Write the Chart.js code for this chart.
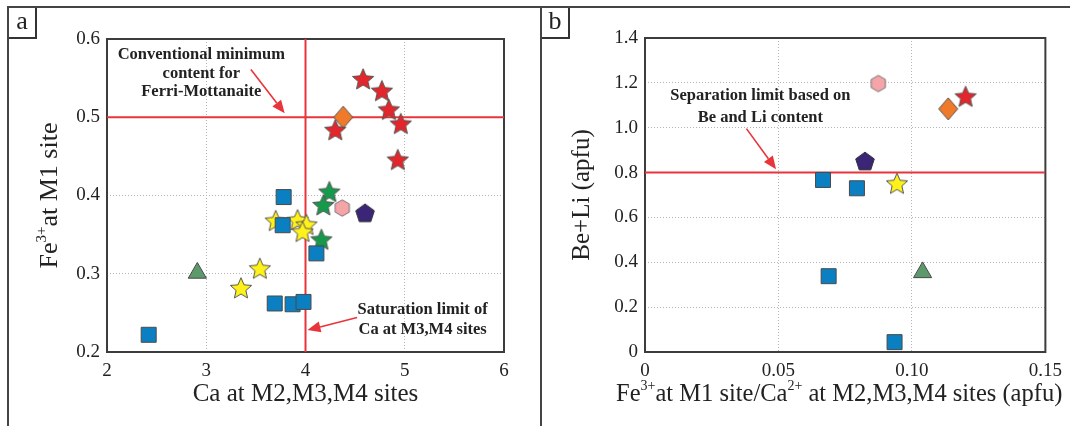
<!DOCTYPE html>
<html>
<head>
<meta charset="utf-8">
<script src="https://cdn.jsdelivr.net/npm/chart.js@4.4.0/dist/chart.umd.min.js"></script>
<style>
html, body { margin: 0; padding: 0; background: #fff; }
#wrap { position: relative; width: 1070px; height: 426px; overflow: hidden; background: #fff; }
#wrap canvas { position: absolute; top: 0; }
.line { position: absolute; background: #444; }
.tag { position: absolute; top: 8px; height: 29px; border-right: 2px solid #333; border-bottom: 2px solid #333;
       font: 26px "Liberation Serif", serif; color: #222; text-align: center; line-height: 26px; }
</style>
</head>
<body>
<div id="wrap">
  <canvas id="chartA" width="540" height="426" style="left:0"></canvas>
  <canvas id="chartB" width="529" height="426" style="left:541px"></canvas>
  <div class="line" style="left:7px;top:6px;width:1063px;height:2px"></div>
  <div class="line" style="left:7px;top:6px;width:2px;height:420px"></div>
  <div class="line" style="left:540px;top:6px;width:2px;height:420px"></div>
  <div class="tag" style="left:9px;width:26px">a</div>
  <div class="tag" style="left:542px;width:26px">b</div>
</div>
<script>
// ---- panel a: Fe3+ at M1 vs Ca at M2,M3,M4 ----
const aXTicks = [2, 3, 4, 5, 6];
const aXLabels = ['2', '3', '4', '5', '6'];
const aYTicks = [0.2, 0.3, 0.4, 0.5, 0.6];
const aYLabels = ['0.2', '0.3', '0.4', '0.5', '0.6'];

const aBlueCa = [3.78, 3.77, 4.11, 3.69, 3.87, 3.98, 2.42];
const aBlueFe = [0.398, 0.362, 0.326, 0.262, 0.261, 0.264, 0.222];
const aYellowCa = [3.70, 3.92, 4.01, 3.97, 3.54, 3.35];
const aYellowFe = [0.368, 0.369, 0.363, 0.354, 0.307, 0.282];
const aRedCa = [4.58, 4.77, 4.84, 4.96, 4.30, 4.93];
const aRedFe = [0.549, 0.534, 0.510, 0.492, 0.484, 0.446];
const aGreenCa = [4.24, 4.18, 4.16];
const aGreenFe = [0.405, 0.388, 0.344];
const aOrangeCa = [4.38];
const aOrangeFe = [0.500];
const aPinkCa = [4.37];
const aPinkFe = [0.384];
const aPurpleCa = [4.60];
const aPurpleFe = [0.378];
const aTriCa = [2.91];
const aTriFe = [0.301];

const aCaLimit = 4;     // saturation limit of Ca
const aFeLimit = 0.5;   // conventional minimum Fe3+

// ---- panel b: Be+Li vs Fe3+/Ca2+ ----
const bXTicks = [0, 0.05, 0.10, 0.15];
const bXLabels = ['0', '0.05', '0.10', '0.15'];
const bYTicks = [0, 0.2, 0.4, 0.6, 0.8, 1.0, 1.2, 1.4];
const bYLabels = ['0', '0.2', '0.4', '0.6', '0.8', '1.0', '1.2', '1.4'];

const bBlueRatio = [0.0667, 0.0794, 0.0688, 0.0935];
const bBlueBeLi = [0.767, 0.730, 0.338, 0.044];
const bYellowRatio = [0.0944];
const bYellowBeLi = [0.752];
const bRedRatio = [0.1201];
const bRedBeLi = [1.140];
const bOrangeRatio = [0.1136];
const bOrangeBeLi = [1.084];
const bPinkRatio = [0.0874];
const bPinkBeLi = [1.197];
const bPurpleRatio = [0.0824];
const bPurpleBeLi = [0.852];
const bTriRatio = [0.104];
const bTriBeLi = [0.355];

const bBeLiLimit = 0.8;

// colours
const C = {
  blue: '#0a80c2', yellow: '#fff21a', red: '#e3262b', green: '#15994a',
  tri: '#5c9a6c', orange: '#ef7b2a', pink: '#f5a4a7', purple: '#3a2577',
  edge: '#4a4a4a', limit: '#e8343a'
};
const SERIF = '"Liberation Serif", "Times New Roman", serif';

// marker images
function shape(kind, fill, stroke) {
  const c = document.createElement('canvas');
  c.width = 28; c.height = 28;
  const g = c.getContext('2d');
  const cx = 14, cy = 14;
  g.beginPath();
  if (kind === 'star') {
    const R = 11.2, r = 5.1;
    for (let i = 0; i < 10; i++) {
      const rad = i % 2 ? r : R;
      const ang = -Math.PI / 2 + i * Math.PI / 5;
      g.lineTo(cx + rad * Math.cos(ang), cy + 1 + rad * Math.sin(ang));
    }
  } else if (kind === 'pentagon') {
    for (let i = 0; i < 5; i++) {
      const ang = -Math.PI / 2 + i * 2 * Math.PI / 5;
      g.lineTo(cx + 9.8 * Math.cos(ang), cy + 1 + 9.8 * Math.sin(ang));
    }
  } else if (kind === 'hexagon') {
    for (let i = 0; i < 6; i++) {
      const ang = -Math.PI / 2 + i * Math.PI / 3;
      g.lineTo(cx + 8.2 * Math.cos(ang), cy + 8.2 * Math.sin(ang));
    }
  } else if (kind === 'diamond') {
    g.moveTo(cx, cy - 11); g.lineTo(cx + 9.5, cy); g.lineTo(cx, cy + 11); g.lineTo(cx - 9.5, cy);
  }
  g.closePath();
  g.fillStyle = fill; g.fill();
  g.lineWidth = 1; g.strokeStyle = stroke; g.stroke();
  return c;
}

function pts(xs, ys) { return xs.map((x, i) => ({ x: x, y: ys[i] })); }

function markerSet(xs, ys, style, fill, radius) {
  return { type: 'scatter', data: pts(xs, ys), order: 0, pointStyle: style,
    backgroundColor: fill, borderColor: C.edge, borderWidth: 1, pointRadius: radius || 10.6 };
}

function limitLine(xs, ys) {
  return { type: 'line', data: pts(xs, ys), order: 10, borderColor: C.limit, borderWidth: 2,
    pointRadius: 0, fill: false, tension: 0 };
}

function fixedTicks(values, labels) {
  return {
    afterBuildTicks: s => { s.ticks = values.map(v => ({ value: v })); },
    callback: (v, i) => labels[i]
  };
}

function axes(xr, yr, xT, xL, yT, yL, yWidth) {
  const grid = { color: '#b4b4b4', lineWidth: 1, drawTicks: false };
  const fx = fixedTicks(xT, xL), fy = fixedTicks(yT, yL);
  return {
    x: { type: 'linear', min: xr[0], max: xr[1], border: { display: false, dash: [1, 2] },
      grid: grid, afterBuildTicks: fx.afterBuildTicks,
      afterFit: s => { s.height = 74; },
      ticks: { callback: fx.callback, padding: 8, color: '#222', font: { family: SERIF, size: 19 }, maxRotation: 0 } },
    y: { type: 'linear', min: yr[0], max: yr[1], border: { display: false, dash: [1, 2] },
      grid: grid, afterBuildTicks: fy.afterBuildTicks,
      afterFit: s => { s.width = yWidth; },
      ticks: { callback: fy.callback, padding: 7, color: '#222', font: { family: SERIF, size: 19 } } }
  };
}

// text with superscript parts: [[text, isSup], ...]
function richText(ctx, parts, x, y, rot, size) {
  const big = size + 'px ' + SERIF, small = Math.round(size * 0.56) + 'px ' + SERIF;
  let w = 0;
  parts.forEach(p => { ctx.font = p[1] ? small : big; w += ctx.measureText(p[0]).width; });
  ctx.save();
  ctx.translate(x, y);
  ctx.rotate(rot || 0);
  ctx.fillStyle = '#222';
  ctx.textBaseline = 'alphabetic';
  let cx = -w / 2;
  parts.forEach(p => {
    ctx.font = p[1] ? small : big;
    ctx.fillText(p[0], cx, p[1] ? -2 : 9);
    cx += ctx.measureText(p[0]).width;
  });
  ctx.restore();
}

function arrow(ctx, x0, y0, x1, y1) {
  const a = Math.atan2(y1 - y0, x1 - x0), L = 13, H = 5.5;
  ctx.save();
  ctx.strokeStyle = C.limit; ctx.fillStyle = C.limit; ctx.lineWidth = 1.6;
  ctx.beginPath();
  ctx.moveTo(x0, y0);
  ctx.lineTo(x1 - L * Math.cos(a), y1 - L * Math.sin(a));
  ctx.stroke();
  ctx.beginPath();
  ctx.moveTo(x1, y1);
  ctx.lineTo(x1 - L * Math.cos(a) + H * Math.sin(a), y1 - L * Math.sin(a) - H * Math.cos(a));
  ctx.lineTo(x1 - L * Math.cos(a) - H * Math.sin(a), y1 - L * Math.sin(a) + H * Math.cos(a));
  ctx.closePath();
  ctx.fill();
  ctx.restore();
}

function notePlugin(notes, xTitle, yTitle, t) {
  return {
    id: 'notes',
    beforeDatasetsDraw(chart) {
      const a = chart.chartArea, ctx = chart.ctx;
      ctx.save();
      ctx.strokeStyle = '#3c3c3c'; ctx.lineWidth = 2;
      ctx.strokeRect(a.left, a.top, a.right - a.left, a.bottom - a.top);
      ctx.restore();
    },
    afterDraw(chart) {
      const ctx = chart.ctx, sx = chart.scales.x, sy = chart.scales.y, a = chart.chartArea;
      notes.forEach(n => {
        ctx.save();
        ctx.font = 'bold 16.5px ' + SERIF;
        ctx.fillStyle = '#222';
        ctx.textAlign = 'center'; ctx.textBaseline = 'middle';
        const px = sx.getPixelForValue(n.x);
        n.lines.forEach((line, i) => ctx.fillText(line, px, sy.getPixelForValue(n.ys[i])));
        ctx.restore();
        arrow(ctx, sx.getPixelForValue(n.from[0]), sy.getPixelForValue(n.from[1]),
                   sx.getPixelForValue(n.to[0]), sy.getPixelForValue(n.to[1]));
      });
      richText(ctx, xTitle, (a.left + a.right) / 2 + t.xShift, t.xY, 0, t.xSize);
      richText(ctx, yTitle, a.left - t.yOff, (a.top + a.bottom) / 2, -Math.PI / 2, t.ySize);
    }
  };
}

const star = fill => shape('star', fill, '#555');

new Chart(document.getElementById('chartA'), {
  type: 'scatter',
  data: {
    datasets: [
      limitLine([aCaLimit, aCaLimit], [aYTicks[0], aYTicks[aYTicks.length - 1]]),
      limitLine([aXTicks[0], aXTicks[aXTicks.length - 1]], [aFeLimit, aFeLimit]),
      markerSet(aTriCa, aTriFe, 'triangle', C.tri, 10.5),
      markerSet(aBlueCa, aBlueFe, 'rect', C.blue, 10.6),
      markerSet(aYellowCa, aYellowFe, star(C.yellow), C.yellow),
      markerSet(aGreenCa, aGreenFe, star(C.green), C.green),
      markerSet(aPinkCa, aPinkFe, shape('hexagon', C.pink, '#777'), C.pink),
      markerSet(aPurpleCa, aPurpleFe, shape('pentagon', C.purple, '#333'), C.purple),
      markerSet(aRedCa, aRedFe, star(C.red), C.red),
      markerSet(aOrangeCa, aOrangeFe, shape('diamond', C.orange, '#555'), C.orange)
    ]
  },
  options: {
    responsive: false, animation: false, devicePixelRatio: 1,
    layout: { padding: { top: 39, right: 36, left: 0, bottom: 0 } },
    plugins: { legend: { display: false }, tooltip: { enabled: false } },
    scales: axes([2, 6], [0.2, 0.6], aXTicks, aXLabels, aYTicks, aYLabels, 107)
  },
  plugins: [notePlugin([
      { x: 2.95, ys: [0.580, 0.556, 0.533], lines: ['Conventional minimum', 'content for', 'Ferri-Mottanaite'],
        from: [3.45, 0.561], to: [3.79, 0.505] },
      { x: 5.18, ys: [0.254, 0.229], lines: ['Saturation limit of', 'Ca at M3,M4 sites'],
        from: [4.52, 0.244], to: [4.02, 0.228] }
    ],
    [['Ca at M2,M3,M4 sites', false]],
    [['Fe', false], ['3+', true], ['at M1 site', false]],
    { xShift: 0, xY: 392, xSize: 25, yOff: 59, ySize: 26 })]
});

new Chart(document.getElementById('chartB'), {
  type: 'scatter',
  data: {
    datasets: [
      limitLine([bXTicks[0], bXTicks[bXTicks.length - 1]], [bBeLiLimit, bBeLiLimit]),
      markerSet(bTriRatio, bTriBeLi, 'triangle', C.tri, 10.5),
      markerSet(bBlueRatio, bBlueBeLi, 'rect', C.blue, 10.6),
      markerSet(bYellowRatio, bYellowBeLi, star(C.yellow), C.yellow),
      markerSet(bPinkRatio, bPinkBeLi, shape('hexagon', C.pink, '#777'), C.pink),
      markerSet(bPurpleRatio, bPurpleBeLi, shape('pentagon', C.purple, '#333'), C.purple),
      markerSet(bRedRatio, bRedBeLi, star(C.red), C.red),
      markerSet(bOrangeRatio, bOrangeBeLi, shape('diamond', C.orange, '#555'), C.orange)
    ]
  },
  options: {
    responsive: false, animation: false, devicePixelRatio: 1,
    layout: { padding: { top: 38, right: 24, left: 0, bottom: 0 } },
    plugins: { legend: { display: false }, tooltip: { enabled: false } },
    scales: axes([0, 0.15], [0, 1.4], bXTicks, bXLabels, bYTicks, bYLabels, 104)
  },
  plugins: [notePlugin([
      { x: 0.0432, ys: [1.144, 1.044], lines: ['Separation limit based on', 'Be and Li content'],
        from: [0.038, 0.996], to: [0.0491, 0.815] }
    ],
    [['Fe', false], ['3+', true], ['at M1 site/Ca', false], ['2+', true], [' at M2,M3,M4 sites (apfu)', false]],
    [['Be+Li (apfu)', false]],
    { xShift: -6, xY: 392, xSize: 24.5, yOff: 65, ySize: 25 })]
});
</script>
</body>
</html>
